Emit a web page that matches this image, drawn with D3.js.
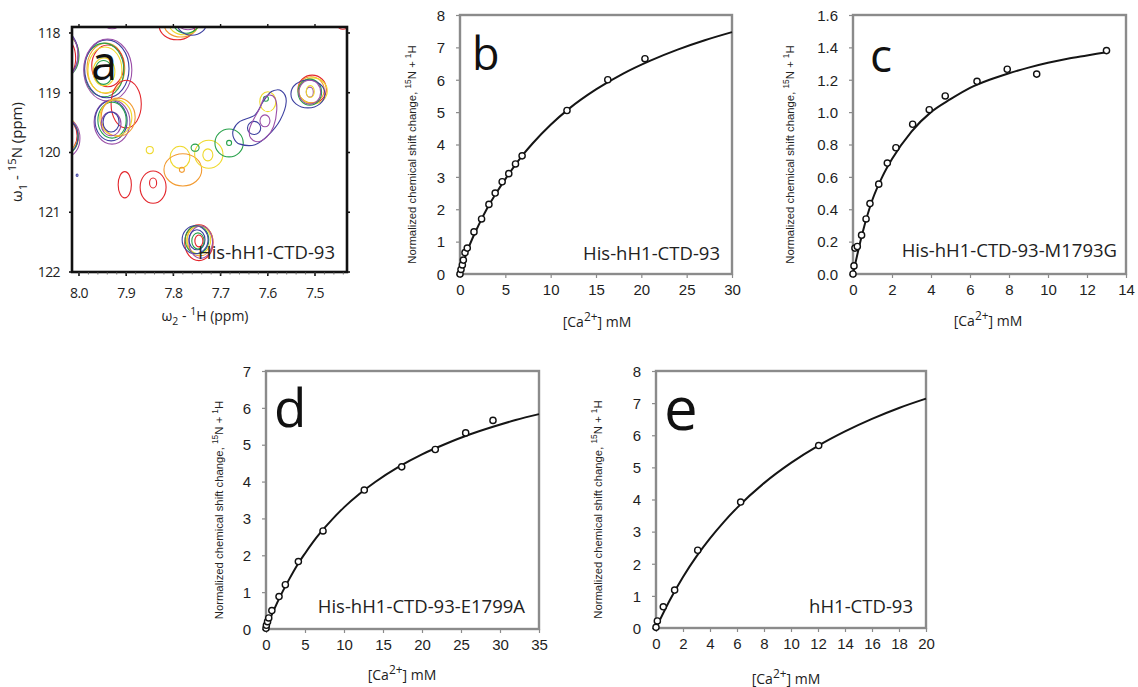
<!DOCTYPE html>
<html>
<head>
<meta charset="utf-8">
<script src="https://cdn.jsdelivr.net/npm/d3@7"></script>
<style>
  body { margin: 0; background: #fff; }
  svg { display: block; font-family: "Liberation Sans", Arial, sans-serif; }
</style>
</head>
<body>
<svg id="fig" width="1138" height="687"></svg>
<script>
// ---------- data ----------

// panel b : His-hH1-CTD-93
var bConc  = [0, 0.11, 0.26, 0.37, 0.55, 0.8, 1.54, 2.38, 3.19, 3.88, 4.65, 5.38, 6.12, 6.85, 11.8, 16.3, 20.4];
var bShift = [0, 0.14, 0.28, 0.43, 0.66, 0.8, 1.3, 1.7, 2.15, 2.5, 2.85, 3.1, 3.4, 3.65, 5.05, 6.0, 6.65];
var bFitX  = [0, 0.5, 1, 2, 3, 4, 5, 6, 7, 8, 10, 12, 15, 18, 21, 24, 27, 30];
var bFitY  = [0, 0.46, 0.85, 1.48, 2.03, 2.5, 2.93, 3.33, 3.70, 4.03, 4.61, 5.10, 5.70, 6.19, 6.59, 6.93, 7.22, 7.47];

// panel c : His-hH1-CTD-93-M1793G
var cConc  = [0, 0.05, 0.1, 0.22, 0.44, 0.67, 0.87, 1.32, 1.76, 2.2, 3.06, 3.91, 4.73, 6.36, 7.91, 9.42, 13.0];
var cShift = [0, 0.05, 0.16, 0.17, 0.24, 0.34, 0.435, 0.555, 0.685, 0.78, 0.925, 1.015, 1.10, 1.19, 1.265, 1.235, 1.38];
var cFitX  = [0, 0.5, 1, 1.5, 2, 3, 4, 5, 6, 7, 8, 9, 10, 11, 12, 13];
var cFitY  = [0, 0.26, 0.46, 0.60, 0.71, 0.88, 1.0, 1.08, 1.15, 1.20, 1.24, 1.275, 1.305, 1.33, 1.35, 1.37];

// panel d : His-hH1-CTD-93-E1799A
var dConc  = [0, 0.05, 0.2, 0.35, 0.75, 1.67, 2.48, 4.15, 7.31, 12.6, 17.4, 21.7, 25.6, 29.1];
var dShift = [0.02, 0.1, 0.2, 0.3, 0.5, 0.88, 1.2, 1.83, 2.66, 3.77, 4.40, 4.87, 5.32, 5.66];
var dFitX  = [0, 1, 2, 3, 4, 5, 6, 7, 8, 10, 12, 14, 17, 20, 23, 26, 29, 32, 35];
var dFitY  = [0, 0.51, 0.96, 1.36, 1.73, 2.05, 2.35, 2.62, 2.86, 3.30, 3.67, 3.99, 4.40, 4.74, 5.02, 5.27, 5.48, 5.67, 5.83];

// panel e : hH1-CTD-93
var eConc  = [0, 0.1, 0.54, 1.38, 3.09, 6.27, 12.05];
var eShift = [0.02, 0.22, 0.66, 1.18, 2.42, 3.92, 5.68];
var eFitX  = [0, 1, 2, 3, 4, 5, 6, 8, 10, 12, 14, 16, 18, 20];
var eFitY  = [0, 0.85, 1.59, 2.23, 2.79, 3.29, 3.74, 4.51, 5.14, 5.67, 6.12, 6.51, 6.85, 7.14];

// tick labels
var bTicksX = [0, 5, 10, 15, 20, 25, 30];
var bTicksY = [0, 1, 2, 3, 4, 5, 6, 7, 8];
var cTicksX = [0, 2, 4, 6, 8, 10, 12, 14];
var cTicksY = [0, 0.2, 0.4, 0.6, 0.8, 1.0, 1.2, 1.4, 1.6];
var dTicksX = [0, 5, 10, 15, 20, 25, 30, 35];
var dTicksY = [0, 1, 2, 3, 4, 5, 6, 7];
var eTicksX = [0, 2, 4, 6, 8, 10, 12, 14, 16, 18, 20];
var eTicksY = [0, 1, 2, 3, 4, 5, 6, 7, 8];

// panel a : HSQC region, 1H (ppm) and 15N (ppm)
var aTicksH = [8.0, 7.9, 7.8, 7.7, 7.6, 7.5];
var aTicksN = [118, 119, 120, 121, 122];

// contour rings: [colour, 1H centre, 15N centre, 1H half-width, 15N half-width]
var spectrumRings = [
  // crowded peaks, upper left
  ['o', 7.943, 118.59, 0.040, 0.42], ['r', 7.939, 118.55, 0.034, 0.35],
  ['y', 7.945, 118.62, 0.036, 0.385], ['g', 7.947, 118.62, 0.042, 0.45],
  ['b', 7.941, 118.60, 0.047, 0.485], ['p', 7.939, 118.62, 0.051, 0.52],
  ['y', 7.947, 118.65, 0.023, 0.234], ['g', 7.948, 118.66, 0.019, 0.20],
  ['r', 7.900, 119.19, 0.032, 0.40],
  ['p', 7.930, 119.49, 0.038, 0.37], ['b', 7.932, 119.47, 0.034, 0.335],
  ['g', 7.930, 119.46, 0.030, 0.30], ['y', 7.922, 119.42, 0.034, 0.30],
  ['o', 7.917, 119.41, 0.036, 0.32], ['p', 7.932, 119.52, 0.021, 0.20],
  ['b', 7.932, 119.49, 0.017, 0.167],
  ['r', 8.032, 118.42, 0.025, 0.335], ['y', 8.028, 118.37, 0.0275, 0.32],
  ['g', 8.030, 118.38, 0.030, 0.35], ['b', 8.034, 118.35, 0.032, 0.385],
  ['p', 8.036, 118.37, 0.034, 0.40],
  ['r', 8.025, 119.72, 0.021, 0.25], ['o', 8.024, 119.73, 0.023, 0.27],
  ['y', 8.025, 119.70, 0.023, 0.27], ['g', 8.027, 119.74, 0.025, 0.285],
  ['b', 8.025, 119.73, 0.023, 0.27], ['p', 8.023, 119.76, 0.025, 0.30],
  // peak cut by the top edge
  ['r', 7.792, 117.88, 0.038, 0.234], ['o', 7.784, 117.85, 0.036, 0.218],
  ['y', 7.778, 117.83, 0.032, 0.20], ['g', 7.773, 117.82, 0.0275, 0.184],
  ['b', 7.761, 117.82, 0.032, 0.218], ['p', 7.769, 117.78, 0.025, 0.167],
  ['p', 7.930, 117.83, 0.017, 0.10], ['r', 7.441, 117.87, 0.011, 0.067],
  // fixed peak near 7.51 / 119.0
  ['r', 7.506, 118.94, 0.030, 0.234], ['o', 7.508, 118.95, 0.0275, 0.218],
  ['y', 7.504, 118.97, 0.030, 0.218], ['g', 7.511, 118.99, 0.025, 0.218],
  ['b', 7.515, 119.02, 0.036, 0.234], ['p', 7.511, 118.99, 0.023, 0.20],
  ['p', 7.511, 118.99, 0.0075, 0.084], ['y', 7.510, 118.98, 0.0085, 0.10],
  // fixed peak near 7.75 / 121.5
  ['r', 7.746, 121.51, 0.030, 0.30], ['o', 7.744, 121.48, 0.0275, 0.25],
  ['y', 7.746, 121.46, 0.025, 0.234], ['g', 7.750, 121.46, 0.025, 0.234],
  ['b', 7.754, 121.46, 0.0275, 0.234], ['p', 7.742, 121.50, 0.025, 0.27],
  ['b', 7.750, 121.46, 0.017, 0.167], ['g', 7.748, 121.48, 0.013, 0.134],
  ['r', 7.746, 121.48, 0.0085, 0.10],
  // titrated peak moving up-right
  ['r', 7.903, 120.54, 0.014, 0.22],
  ['r', 7.843, 120.58, 0.0275, 0.27], ['r', 7.843, 120.51, 0.0075, 0.084],
  ['y', 7.786, 120.08, 0.021, 0.184],
  ['o', 7.780, 120.29, 0.040, 0.27], ['o', 7.782, 120.29, 0.0053, 0.042],
  ['y', 7.850, 119.96, 0.0075, 0.06],
  ['y', 7.725, 120.03, 0.030, 0.234], ['y', 7.727, 120.04, 0.0106, 0.10],
  ['g', 7.754, 119.92, 0.0085, 0.06],
  ['g', 7.682, 119.84, 0.030, 0.234], ['g', 7.682, 119.84, 0.0053, 0.042],
  ['b', 7.629, 119.59, 0.014, 0.11], ['p', 7.606, 119.47, 0.0106, 0.10],
  ['y', 7.600, 119.15, 0.017, 0.167], ['g', 7.604, 119.10, 0.0053, 0.042],
  ['b', 8.004, 120.38, 0.002, 0.02]
];

// elongated contours, as outline points [1H, 15N]
var spectrumOutlines = [
  ['b', [[7.673, 119.62], [7.659, 119.48], [7.627, 119.37], [7.610, 119.15], [7.592, 118.98],
         [7.571, 118.97], [7.561, 119.15], [7.574, 119.46], [7.599, 119.71], [7.627, 119.87],
         [7.659, 119.86], [7.672, 119.76]]],
  ['p', [[7.639, 119.62], [7.631, 119.46], [7.617, 119.26], [7.610, 119.12], [7.599, 119.04],
         [7.585, 119.09], [7.581, 119.29], [7.588, 119.57], [7.602, 119.74], [7.620, 119.82],
         [7.636, 119.76]]]
];

var ringColour = {r: '#e3262c', o: '#f29a30', y: '#efd92c', g: '#27a14a', b: '#3d40a0', p: '#9b4fa8'};

// ---------- helpers ----------
var svg = d3.select('#fig');
var sansMyriad = '"Open Sans", "Noto Sans", sans-serif';

// text with superscripts / subscripts: parts = [[text, 'sup'|'sub'|undefined], ...]
function richText(sel, parts, size, supScale) {
  var shift = 0;
  var k = supScale || 0.68;
  parts.forEach(function(p) {
    var target = p[1] === 'sup' ? -0.42 * size : (p[1] === 'sub' ? 0.3 * size : 0);
    sel.append('tspan')
      .attr('dy', target - shift)
      .style('font-size', p[1] ? (size * k) + 'px' : size + 'px')
      .text(p[0]);
    shift = target;
  });
}

// ---------- panel a ----------
(function() {
  var left = 72, right = 347, top = 27, bottom = 272;
  var x = d3.scaleLinear().domain([8.0148, 7.4322]).range([left, right]);
  var y = d3.scaleLinear().domain([117.9, 122]).range([top, bottom]);
  var g = svg.append('g');

  g.append('clipPath').attr('id', 'clipA')
    .append('rect').attr('x', left).attr('y', top)
    .attr('width', right - left).attr('height', bottom - top);

  var marks = g.append('g').attr('clip-path', 'url(#clipA)')
    .style('fill', 'none').style('stroke-width', 1.1);

  marks.selectAll('ellipse')
    .data(spectrumRings)
    .enter()
    .append('ellipse')
    .attr('cx', (d) => x(d[1]))
    .attr('cy', (d) => y(d[2]))
    .attr('rx', (d) => Math.abs(x(d[1] + d[3]) - x(d[1])))
    .attr('ry', (d) => Math.abs(y(d[2] + d[4]) - y(d[2])))
    .style('stroke', (d) => ringColour[d[0]]);

  var outline = d3.line()
    .x((d) => x(d[0]))
    .y((d) => y(d[1]))
    .curve(d3.curveCardinalClosed);

  marks.selectAll('path')
    .data(spectrumOutlines)
    .enter()
    .append('path')
    .attr('d', (d) => outline(d[1]))
    .style('stroke', (d) => ringColour[d[0]]);

  // frame
  g.append('rect')
    .attr('x', left).attr('y', top)
    .attr('width', right - left).attr('height', bottom - top)
    .style('fill', 'none').style('stroke', '#111').style('stroke-width', 2.6);

  // ticks on all four sides (outward)
  var minor = d3.range(7.44, 8.01, 0.02);
  g.selectAll('.tbx').data(aTicksH).enter().append('line')
    .attr('x1', (d) => x(d)).attr('x2', (d) => x(d))
    .attr('y1', bottom).attr('y2', bottom + 4)
    .style('stroke', '#111').style('stroke-width', 1.6);
  g.selectAll('.tmx').data(minor).enter().append('line')
    .attr('x1', (d) => x(d)).attr('x2', (d) => x(d))
    .attr('y1', bottom).attr('y2', bottom + 2.5)
    .style('stroke', '#555').style('stroke-width', 0.8);
  g.selectAll('.ttx').data(aTicksH).enter().append('line')
    .attr('x1', (d) => x(d)).attr('x2', (d) => x(d))
    .attr('y1', top).attr('y2', top - 3)
    .style('stroke', '#111').style('stroke-width', 1.4);
  g.selectAll('.tly').data(aTicksN).enter().append('line')
    .attr('x1', left).attr('x2', left - 3)
    .attr('y1', (d) => y(d)).attr('y2', (d) => y(d))
    .style('stroke', '#111').style('stroke-width', 1.6);
  g.selectAll('.try').data(aTicksN).enter().append('line')
    .attr('x1', right).attr('x2', right + 3)
    .attr('y1', (d) => y(d)).attr('y2', (d) => y(d))
    .style('stroke', '#111').style('stroke-width', 1.6);

  // tick labels
  g.selectAll('.lx').data(aTicksH).enter().append('text')
    .attr('x', (d) => x(d)).attr('y', bottom + 26)
    .attr('text-anchor', 'middle')
    .style('font-family', sansMyriad).style('font-size', '14px')
    .style('letter-spacing', '-0.6px').style('fill', '#222')
    .text((d) => d.toFixed(1));
  g.selectAll('.ly').data(aTicksN).enter().append('text')
    .attr('x', left - 12).attr('y', (d) => y(d) + 5)
    .attr('text-anchor', 'end')
    .style('font-family', sansMyriad).style('font-size', '14px')
    .style('letter-spacing', '-0.6px').style('fill', '#222')
    .text((d) => d);

  // axis titles
  var tx = g.append('text')
    .attr('x', 205).attr('y', 321).attr('text-anchor', 'middle')
    .style('font-family', sansMyriad).style('fill', '#222');
  richText(tx, [['\u03c9'], ['2', 'sub'], [' - '], ['1', 'sup'], ['H (ppm)']], 14, 0.75);

  var ty = g.append('text')
    .attr('transform', 'translate(22,152) rotate(-90)').attr('text-anchor', 'middle')
    .style('font-family', sansMyriad).style('fill', '#222');
  richText(ty, [['\u03c9'], ['1', 'sub'], [' - '], ['15', 'sup'], ['N  (ppm)']], 15, 0.75);

  g.append('text').attr('x', 91).attr('y', 80)
    .style('font-family', sansMyriad).style('font-size', '47px').style('fill', '#111')
    .text('a');
  g.append('text').attr('x', 335).attr('y', 259).attr('text-anchor', 'end')
    .style('font-family', sansMyriad).style('font-size', '18.5px').style('fill', '#222')
    .text('His-hH1-CTD-93');
})();

// ---------- titration panels ----------
function titration(cfg) {
  var x = d3.scaleLinear().domain(cfg.xDomain).range([cfg.left, cfg.right]);
  var y = d3.scaleLinear().domain(cfg.yDomain).range([cfg.bottom, cfg.top]);
  var g = svg.append('g');
  var grey = '#8b8b8b';

  var xAxis = g.append('g')
    .attr('transform', 'translate(0,' + cfg.bottom + ')')
    .call(d3.axisBottom(x).tickValues(cfg.xTicks).tickSize(4).tickSizeOuter(0));
  xAxis.selectAll('text').attr('y', 21).attr('dy', 0);

  var yAxis = g.append('g')
    .attr('transform', 'translate(' + cfg.left + ',0)')
    .call(d3.axisLeft(y).tickValues(cfg.yTicks).tickSize(4).tickSizeOuter(0)
      .tickFormat(cfg.yFormat));
  yAxis.selectAll('text').attr('x', -15).attr('dy', '0.35em');

  g.selectAll('.domain').remove();
  g.selectAll('.tick line').style('stroke', grey).style('stroke-width', 1.2);
  g.selectAll('.tick text')
    .style('font-family', '"Liberation Sans", Arial, sans-serif')
    .style('font-size', '15px').style('fill', '#1e1e1e');

  // plot frame
  g.append('rect')
    .attr('x', cfg.left).attr('y', cfg.top)
    .attr('width', cfg.right - cfg.left).attr('height', cfg.bottom - cfg.top)
    .style('fill', 'none').style('stroke', grey).style('stroke-width', 2.4);

  // fitted curve
  var fit = cfg.fitX.map((v, i) => [v, cfg.fitY[i]]);
  g.append('path')
    .attr('d', d3.line().x((d) => x(d[0])).y((d) => y(d[1])).curve(d3.curveMonotoneX)(fit))
    .style('fill', 'none').style('stroke', '#151515').style('stroke-width', 2);

  // measured points
  var pts = cfg.conc.map((v, i) => [v, cfg.shift[i]]);
  g.selectAll('circle')
    .data(pts)
    .enter()
    .append('circle')
    .attr('cx', (d) => x(d[0]))
    .attr('cy', (d) => y(d[1]))
    .attr('r', 3.1)
    .style('fill', '#fff')
    .style('stroke', '#111')
    .style('stroke-width', 1.4);

  // panel letter and construct name
  g.append('text').attr('x', cfg.letterX).attr('y', cfg.letterY)
    .style('font-family', sansMyriad).style('font-size', cfg.letterSize + 'px').style('fill', '#111')
    .text(cfg.letter);
  g.append('text').attr('x', cfg.nameX).attr('y', cfg.nameY).attr('text-anchor', 'end')
    .style('font-family', sansMyriad).style('font-size', '18.5px').style('fill', '#222')
    .text(cfg.name);

  // axis titles
  var xt = g.append('text')
    .attr('x', cfg.xTitleX).attr('y', cfg.xTitleY).attr('text-anchor', 'middle')
    .style('font-family', sansMyriad).style('fill', '#222');
  richText(xt, [['[Ca'], ['2+', 'sup'], ['] mM']], 14, 0.85);

  var yt = g.append('text')
    .attr('transform', 'translate(' + cfg.yTitleX + ',' + ((cfg.top + cfg.bottom) / 2 + 10) + ') rotate(-90)')
    .attr('text-anchor', 'middle')
    .style('font-family', '"Liberation Sans", Arial, sans-serif').style('fill', '#222');
  richText(yt, [['Normalized chemical shift change, '], ['15', 'sup'], ['N + '], ['1', 'sup'], ['H']], 11.3, 0.75);
}

var fmtInt = d3.format('d');
var fmtOne = d3.format('.1f');

titration({
  left: 460, right: 732, top: 15, bottom: 274,
  xDomain: [0, 30], yDomain: [0, 8], xTicks: bTicksX, yTicks: bTicksY, yFormat: fmtInt,
  conc: bConc, shift: bShift, fitX: bFitX, fitY: bFitY,
  letter: 'b', letterX: 472, letterY: 70, letterSize: 45,
  name: 'His-hH1-CTD-93', nameX: 720, nameY: 260,
  xTitleX: 597, xTitleY: 327, yTitleX: 416
});
titration({
  left: 853, right: 1126, top: 15, bottom: 274,
  xDomain: [0, 14], yDomain: [0, 1.6], xTicks: cTicksX, yTicks: cTicksY, yFormat: fmtOne,
  conc: cConc, shift: cShift, fitX: cFitX, fitY: cFitY,
  letter: 'c', letterX: 870, letterY: 72, letterSize: 46,
  name: 'His-hH1-CTD-93-M1793G', nameX: 1117, nameY: 257,
  xTitleX: 988, xTitleY: 326, yTitleX: 794
});
titration({
  left: 266, right: 539, top: 371, bottom: 629,
  xDomain: [0, 35], yDomain: [0, 7], xTicks: dTicksX, yTicks: dTicksY, yFormat: fmtInt,
  conc: dConc, shift: dShift, fitX: dFitX, fitY: dFitY,
  letter: 'd', letterX: 274, letterY: 427, letterSize: 53,
  name: 'His-hH1-CTD-93-E1799A', nameX: 525, nameY: 613,
  xTitleX: 402, xTitleY: 680, yTitleX: 223
});
titration({
  left: 656, right: 926, top: 371, bottom: 628,
  xDomain: [0, 20], yDomain: [0, 8], xTicks: eTicksX, yTicks: eTicksY, yFormat: fmtInt,
  conc: eConc, shift: eShift, fitX: eFitX, fitY: eFitY,
  letter: 'e', letterX: 664, letterY: 430, letterSize: 60,
  name: 'hH1-CTD-93', nameX: 913, nameY: 613,
  xTitleX: 786, xTitleY: 684, yTitleX: 602
});
</script>
</body>
</html>
